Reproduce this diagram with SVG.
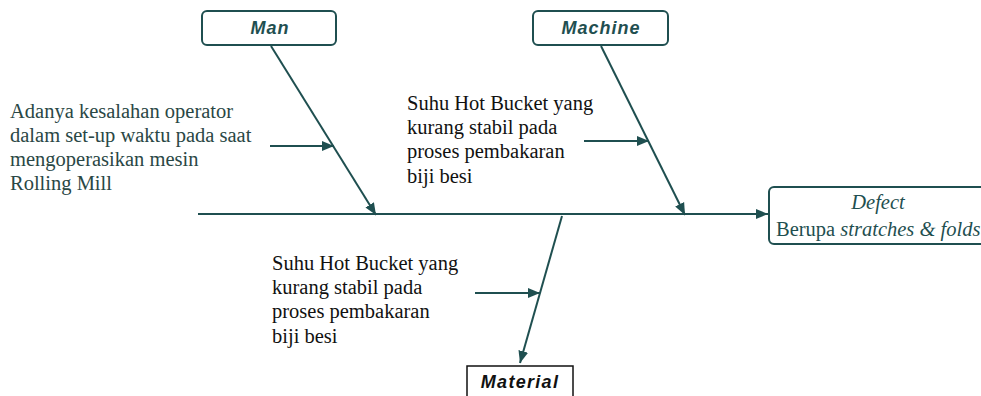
<svg xmlns="http://www.w3.org/2000/svg" width="981" height="396" viewBox="0 0 981 396">
<defs>
<marker id="ah" markerWidth="12" markerHeight="12" viewBox="0 0 12 12" refX="12" refY="6" orient="auto" markerUnits="userSpaceOnUse">
<path d="M0,1 L12,6 L0,11 Z" fill="#1f4f50"/>
</marker>
<style>
.ln{stroke:#1f4f50;stroke-width:2;fill:none}
.box{fill:#fff;stroke:#1f4f50;stroke-width:2}
.hd{font-family:"Liberation Sans",Arial,sans-serif;font-size:18px;font-style:italic;font-weight:bold;fill:#1f4f50;text-anchor:middle;letter-spacing:1px}
.tx{font-family:"Liberation Serif","Times New Roman",serif;font-size:20.5px;fill:#111}
.sf{font-family:"Liberation Serif","Times New Roman",serif;font-size:20.5px;fill:#1f4f50}
</style>
</defs>
<rect width="981" height="396" fill="#fff"/>
<g id="connectors">
<line class="ln" x1="198" y1="214" x2="768" y2="214" marker-end="url(#ah)"/>
<line class="ln" x1="271" y1="46" x2="376" y2="215" marker-end="url(#ah)"/>
<line class="ln" x1="601" y1="46" x2="685" y2="215" marker-end="url(#ah)"/>
<line class="ln" x1="562" y1="216" x2="520" y2="363" marker-end="url(#ah)"/>
<line class="ln" x1="270" y1="146" x2="334" y2="146" marker-end="url(#ah)"/>
<line class="ln" x1="584" y1="141" x2="649" y2="141" marker-end="url(#ah)"/>
<line class="ln" x1="475" y1="293" x2="540" y2="293" marker-end="url(#ah)"/>
</g>
<g id="man">
<rect class="box" x="202" y="11" width="134" height="34" rx="5"/>
<text class="hd" x="270" y="34">Man</text>
</g>
<g id="machine">
<rect class="box" x="533" y="11" width="135" height="34" rx="5"/>
<text class="hd" x="601" y="34">Machine</text>
</g>
<g id="defect">
<rect class="box" x="769" y="187" width="216" height="57" rx="5"/>
<text class="sf" x="878" y="209" font-style="italic" text-anchor="middle">Defect</text>
<text class="sf" x="776" y="236">Berupa <tspan font-style="italic">stratches &amp; folds</tspan></text>
</g>
<g id="material">
<rect x="467" y="366" width="106" height="40" fill="#fff" stroke="#111" stroke-width="1.5"/>
<text x="520" y="388" style="font-family:'Liberation Sans',Arial,sans-serif;font-size:18px;font-style:italic;font-weight:bold;fill:#111;text-anchor:middle;letter-spacing:1.3px">Material</text>
</g>
<g id="cause-man">
<text class="tx" x="10" y="118" style="fill:#2a4745">Adanya kesalahan operator</text>
<text class="tx" x="10" y="142" style="fill:#2a4745">dalam set-up waktu pada saat</text>
<text class="tx" x="10" y="166" style="fill:#2a4745">mengoperasikan mesin</text>
<text class="tx" x="10" y="190" style="fill:#2a4745">Rolling Mill</text>
</g>
<g id="cause-machine">
<text class="tx" x="407" y="110">Suhu Hot Bucket yang</text>
<text class="tx" x="407" y="134">kurang stabil pada</text>
<text class="tx" x="407" y="158">proses pembakaran</text>
<text class="tx" x="407" y="183">biji besi</text>
</g>
<g id="cause-material">
<text class="tx" x="272" y="270">Suhu Hot Bucket yang</text>
<text class="tx" x="272" y="294">kurang stabil pada</text>
<text class="tx" x="272" y="318">proses pembakaran</text>
<text class="tx" x="272" y="343">biji besi</text>
</g>
</svg>
